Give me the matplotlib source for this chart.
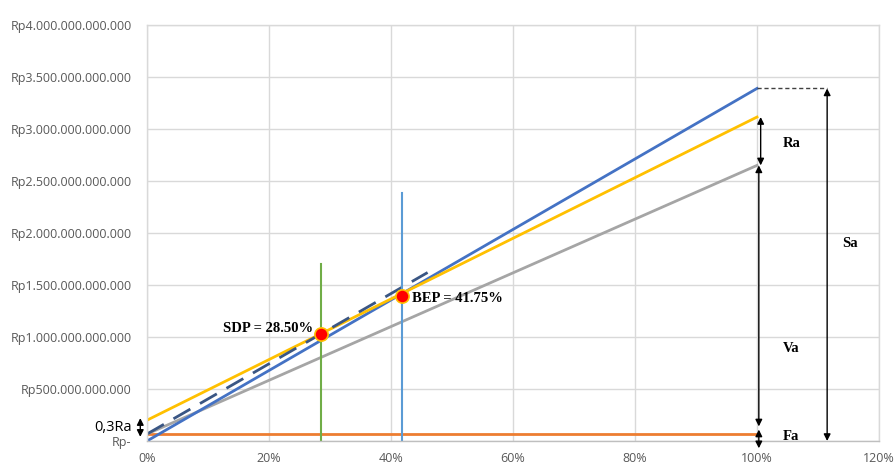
import matplotlib
matplotlib.use("Agg")
import matplotlib.pyplot as plt

# ---- data (values in Rp, x as fraction of capacity) ----
x_line = [0.0, 1.0]
sales = [0.0, 3.39e12]             # blue
total_cost = [0.20e12, 3.115e12]   # yellow
variable_cost = [0.067e12, 2.65e12]  # gray
fixed_cost = [0.067e12, 0.067e12]  # orange
sdp_line_x = [0.0, 0.46]
sdp_line_y = [0.067e12, 1.62e12]   # dashed
sdp_x, sdp_y = 0.285, 1.031e12
bep_x, bep_y = 0.4175, 1.39e12
sdp_vline_top = 1.70e12
bep_vline_top = 2.385e12
sa_x = 1.115

y_ticks = [0, 0.5e12, 1.0e12, 1.5e12, 2.0e12, 2.5e12, 3.0e12, 3.5e12, 4.0e12]
y_labels = ["Rp-", "Rp500.000.000.000", "Rp1.000.000.000.000", "Rp1.500.000.000.000",
            "Rp2.000.000.000.000", "Rp2.500.000.000.000", "Rp3.000.000.000.000",
            "Rp3.500.000.000.000", "Rp4.000.000.000.000"]
x_ticks = [0, 0.2, 0.4, 0.6, 0.8, 1.0, 1.2]
x_labels = ["0%", "20%", "40%", "60%", "80%", "100%", "120%"]

fig = plt.figure(figsize=(8.94, 4.67), dpi=100)
ax = fig.add_axes([147/894, 26/467, (879-147)/894, (441-25)/467])
ax.set_xlim(0, 1.2)
ax.set_ylim(0, 4.0e12)

ax.set_xticks(x_ticks)
ax.set_xticklabels(x_labels)
ax.set_yticks(y_ticks)
ax.set_yticklabels(y_labels)
for lab in ax.get_xticklabels() + ax.get_yticklabels():
    lab.set_fontfamily("Open Sans")
    lab.set_fontsize(9)
    lab.set_color("#595959")
ax.tick_params(length=0)
ax.tick_params(axis="x", pad=8)
ax.tick_params(axis="y", pad=11)
ax.grid(True, color="#d9d9d9", lw=1)
ax.set_axisbelow(True)
for s in ax.spines.values():
    s.set_color("#d9d9d9")
    s.set_linewidth(1)
ax.spines["bottom"].set_color("#bfbfbf")

ax.plot(x_line, fixed_cost, color="#ED7D31", lw=2)
ax.plot(x_line, variable_cost, color="#A5A5A5", lw=2)
ax.plot(x_line, sales, color="#4472C4", lw=2)
ax.plot(x_line, total_cost, color="#FFC000", lw=2)
ax.plot(sdp_line_x, sdp_line_y, color="#3A5684", lw=2, dashes=(7, 4))
ax.plot([sdp_x, sdp_x], [0, sdp_vline_top], color="#70AD47", lw=1.5)
ax.plot([bep_x, bep_x], [0, bep_vline_top], color="#5B9BD5", lw=1.5)

ax.plot([1.0, sa_x], [sales[1], sales[1]], color="#404040", lw=1, dashes=(3, 2))

ax.plot([sdp_x], [sdp_y], "o", color="#FF0000", mec="#FFC000", mew=1.2, ms=9.5, zorder=5)
ax.plot([bep_x], [bep_y], "o", color="#FF0000", mec="#FFC000", mew=1.2, ms=9.5, zorder=5)

serif = dict(family="Liberation Serif", fontweight="bold", fontsize=10.5, color="black")
ax.text(sdp_x - 0.012, sdp_y + 0.05e12, "SDP = 28.50%", ha="right", va="center", **serif)
ax.text(bep_x + 0.017, bep_y - 0.02e12, "BEP = 41.75%", ha="left", va="center", **serif)

arrow_kw = dict(arrowstyle="<|-|>", color="black", lw=1, mutation_scale=10, shrinkA=0, shrinkB=0)
def darrow(x0, y0, x1, y1):
    ax.annotate("", xy=(x1, y1), xytext=(x0, y0), arrowprops=arrow_kw, annotation_clip=False)

darrow(1.006, total_cost[1], 1.006, variable_cost[1])
darrow(1.003, variable_cost[1], 1.003, 0.14e12)
darrow(1.003, 0.11e12, 1.003, -0.07e12)
darrow(sa_x, sales[1], sa_x, 0.0)
darrow(-0.011, 0.22e12, -0.011, 0.04e12)

ax.text(1.043, 2.86e12, "Ra", ha="left", va="center", **serif)
ax.text(1.14, 1.9e12, "Sa", ha="left", va="center", **serif)
ax.text(1.043, 0.89e12, "Va", ha="left", va="center", **serif)
ax.text(1.043, 0.04e12, "Fa", ha="left", va="center", **serif)

ax.text(-0.025, 0.13e12, "0,3Ra", ha="right", va="center", family="Open Sans",
        fontsize=10.5, color="black", clip_on=False)

fig.savefig("out.png", dpi=100)
